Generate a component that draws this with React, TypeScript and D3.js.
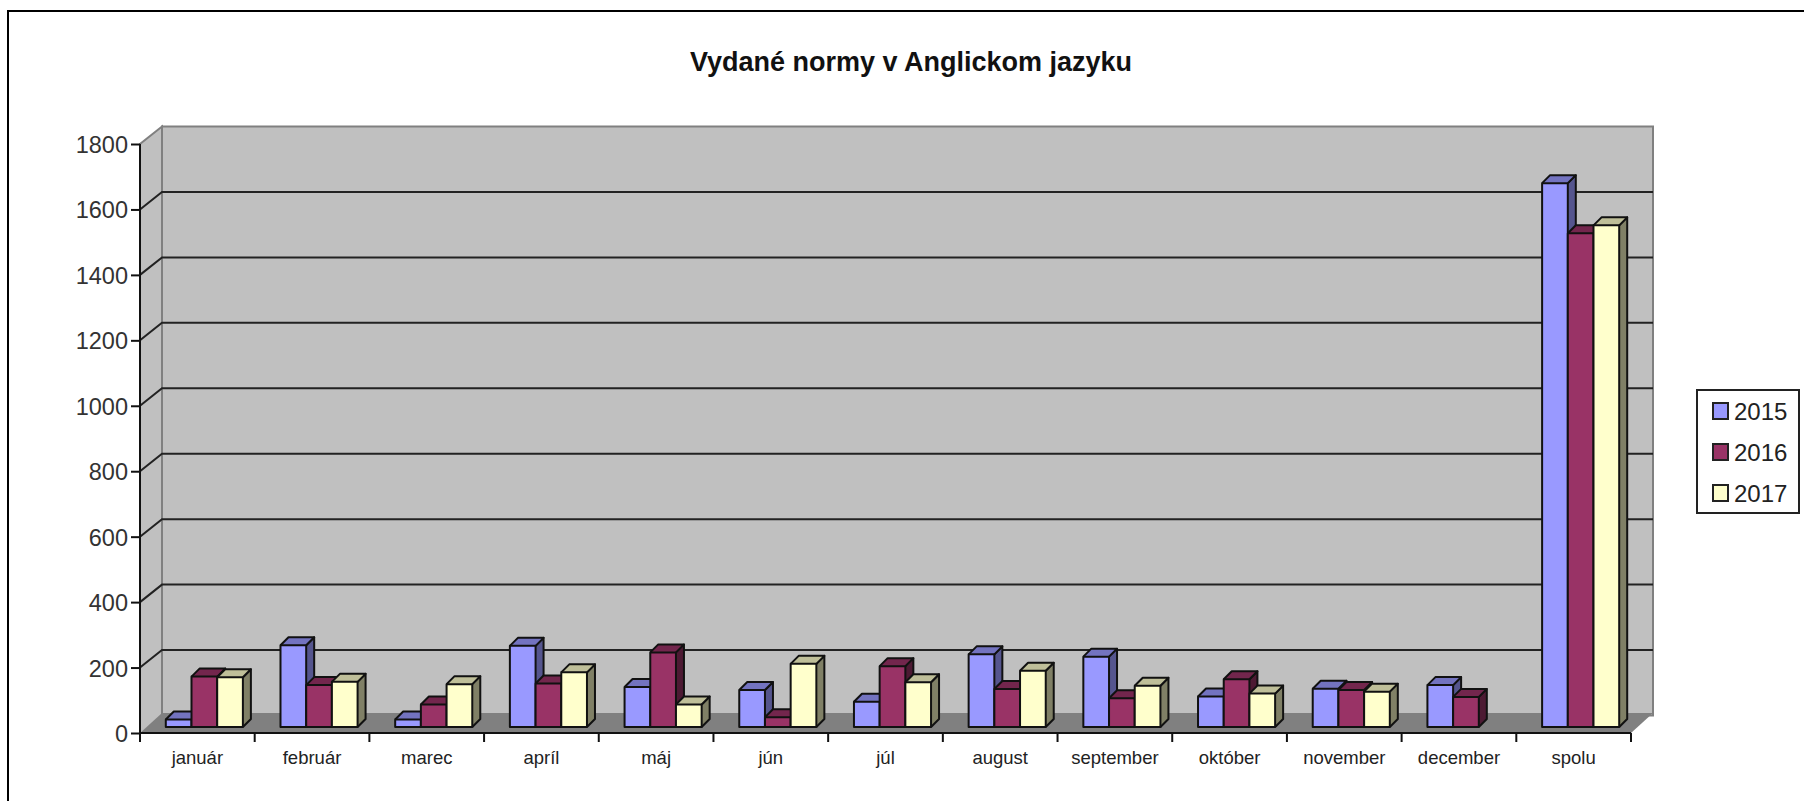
// 3D-look clustered column chart, drawn with d3 through a ref.
import { useEffect, useRef } from "react";
import * as d3 from "d3";

const MONTHS = ["január", "február", "marec", "apríl", "máj", "jún", "júl", "august", "september", "október", "november", "december", "spolu"];
const YEARS = ["2015", "2016", "2017"];
const V2015 = [23, 250, 23, 248, 122, 113, 77, 222, 215, 93, 117, 128, 1662];
const V2016 = [154, 128, 69, 133, 228, 30, 186, 116, 88, 146, 113, 92, 1509];
const V2017 = [152, 138, 131, 167, 69, 193, 137, 172, 126, 102, 108, 0, 1533];
const TICKS = [0, 200, 400, 600, 800, 1000, 1200, 1400, 1600, 1800];

const FRONT = ["#9999ff", "#993366", "#ffffcc"];
const TOP = ["#7373c0", "#73264d", "#bfbf99"];
const SIDE = ["#55558e", "#4d1a33", "#808066"];

const W = 1804;
const H = 801;
const FONT = "'Liberation Sans', Arial, sans-serif";

export default function App() {
  const svgRef = useRef<SVGSVGElement | null>(null);

  useEffect(() => {
    const svg = d3.select(svgRef.current);
    svg.selectAll("*").remove();

    const x0 = 140;
    const x1 = 1631;
    const yBase = 733;
    const yTop = 144;
    const wallDx = 22;
    const wallDy = -17.5;
    const floorDy = -20;
    const barDx = 7;
    const barDy = -6;
    const depthX = 8;
    const depthY = -8;

    const x = d3.scaleBand<string>().domain(MONTHS).range([x0, x1]);
    const inner = d3
      .scaleBand<string>()
      .domain(YEARS)
      .range([18.8, x.bandwidth() - 18.8]);
    const y = d3.scaleLinear().domain([0, 1800]).range([yBase, yTop]);
    const poly = d3.line();

    // outer frame
    svg
      .append("path")
      .attr("d", `M8,${H + 2}V11H${W + 2}`)
      .attr("fill", "none")
      .attr("stroke", "#000")
      .attr("stroke-width", 2);

    svg
      .append("text")
      .attr("x", 911)
      .attr("y", 71)
      .attr("text-anchor", "middle")
      .attr("font-family", FONT)
      .attr("font-weight", "bold")
      .attr("font-size", 27)
      .attr("fill", "#111")
      .text("Vydané normy v Anglickom jazyku");

    // walls and floor
    svg
      .append("path")
      .attr("d", poly([[x0, yBase], [x0, yTop], [x0 + wallDx, yTop + wallDy], [x0 + wallDx, yBase + wallDy]]))
      .attr("fill", "#c0c0c0")
      .attr("stroke", "#808080")
      .attr("stroke-width", 2);
    svg
      .append("rect")
      .attr("x", x0 + wallDx)
      .attr("y", yTop + wallDy)
      .attr("width", x1 - x0)
      .attr("height", yBase - yTop)
      .attr("fill", "#c0c0c0")
      .attr("stroke", "#808080")
      .attr("stroke-width", 2);
    svg
      .append("path")
      .attr("d", poly([[x0, yBase], [x0 + wallDx, yBase + floorDy], [x1 + wallDx, yBase + floorDy], [x1, yBase]]))
      .attr("fill", "#808080");

    // gridlines run across the back wall and fold down the left wall
    const grid = svg.append("g").attr("fill", "none").attr("stroke", "#222").attr("stroke-width", 2);
    TICKS.filter((t) => t > 0 && t < 1800).forEach((t) => {
      grid.append("path").attr("d", poly([[x0, y(t)], [x0 + wallDx, y(t) + wallDy], [x1 + wallDx, y(t) + wallDy]]));
    });

    // axes
    const axisY = svg
      .append("g")
      .attr("transform", `translate(${x0},0)`)
      .call(d3.axisLeft(y).tickValues(TICKS).tickSize(9).tickPadding(3).tickFormat(d3.format("d")));
    axisY.selectAll("path").attr("stroke", "#111").attr("stroke-width", 2).attr("d", `M0,${yBase}V${yTop}`);
    axisY.selectAll("line").attr("stroke", "#111").attr("stroke-width", 2);
    axisY.selectAll("text").attr("font-family", FONT).attr("font-size", 23.5).attr("fill", "#333").attr("dy", "0.36em");

    const axisX = svg
      .append("g")
      .attr("transform", `translate(0,${yBase})`)
      .call(d3.axisBottom(x).tickSize(0).tickPadding(18));
    axisX.selectAll("path").attr("stroke", "#111").attr("stroke-width", 2).attr("d", `M${x0},0H${x1}`);
    axisX.selectAll("text").attr("font-family", FONT).attr("font-size", 18.5).attr("fill", "#222");
    svg
      .append("g")
      .attr("stroke", "#111")
      .attr("stroke-width", 2)
      .selectAll("line")
      .data([...MONTHS.map((m) => x(m) as number), x1])
      .join("line")
      .attr("x1", (d) => d)
      .attr("x2", (d) => d)
      .attr("y1", yBase)
      .attr("y2", yBase + 9);

    // bars, painted left to right so neighbours cover the side faces
    const series = [V2015, V2016, V2017];
    MONTHS.forEach((m, i) => {
      const g = svg
        .append("g")
        .attr("transform", `translate(${(x(m) as number) + barDx},${barDy})`)
        .attr("stroke", "#111")
        .attr("stroke-width", 2)
        .attr("stroke-linejoin", "round");
      YEARS.forEach((yr, s) => {
        const v = series[s][i];
        if (v <= 0) return;
        const l = inner(yr) as number;
        const r = l + inner.bandwidth();
        const t = y(v);
        g.append("path")
          .attr("d", poly([[r, yBase], [r + depthX, yBase + depthY], [r + depthX, t + depthY], [r, t]]))
          .attr("fill", SIDE[s]);
        g.append("path")
          .attr("d", poly([[l, t], [l + depthX, t + depthY], [r + depthX, t + depthY], [r, t]]))
          .attr("fill", TOP[s]);
        g.append("rect")
          .attr("x", l)
          .attr("y", t)
          .attr("width", r - l)
          .attr("height", yBase - t)
          .attr("fill", FRONT[s]);
      });
    });

    // legend
    const legend = svg.append("g").attr("transform", "translate(1697,390)");
    legend
      .append("rect")
      .attr("width", 102)
      .attr("height", 123)
      .attr("fill", "#fff")
      .attr("stroke", "#222")
      .attr("stroke-width", 2);
    const rows = d3.scalePoint<string>().domain(YEARS).range([21, 103]);
    YEARS.forEach((yr, s) => {
      const cy = rows(yr) as number;
      legend
        .append("rect")
        .attr("x", 16)
        .attr("y", cy - 8)
        .attr("width", 15)
        .attr("height", 16)
        .attr("fill", FRONT[s])
        .attr("stroke", "#222")
        .attr("stroke-width", 2);
      legend
        .append("text")
        .attr("x", 37)
        .attr("y", cy)
        .attr("dy", "0.36em")
        .attr("font-family", FONT)
        .attr("font-size", 24)
        .attr("fill", "#222")
        .text(yr);
    });
  }, []);

  return (
    <svg
      ref={svgRef}
      width={W}
      height={H}
      viewBox={`0 0 ${W} ${H}`}
      style={{ position: "absolute", left: 0, top: 0, background: "#fff" }}
    />
  );
}
